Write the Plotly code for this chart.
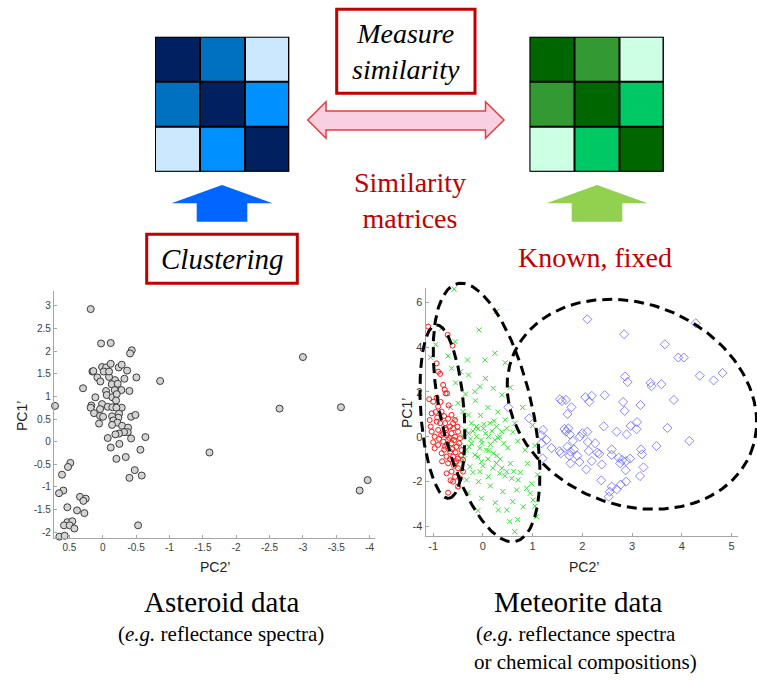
import numpy as np
import plotly.graph_objects as go

W, H = 757, 680


def px(x):
    return x / W


def py(y):
    return 1 - y / H


# ---------------- Asteroid data (PC2', PC1') ----------------
ast_x = [-3.57, -3.00, -4.085, -2.65, -3.57, -1.60, -3.97, -3.85, -0.86,
         0.715, 0.18, 0.025, -0.12, -0.435, -0.41, 0.295, 0.155, 0.14, 0.08,
         0.035, 0.01, -0.05, -0.12, -0.24, -0.285, -0.365, -0.505, -0.325,
         -0.185, -0.095, -0.015, -0.095, -0.135, -0.225, -0.28, -0.18, -0.40,
         -0.05, -0.06, 0.11, -0.145, -0.21, -0.20, 0.01, 0.17, 0.18, 0.04,
         -0.075, -0.145, -0.285, -0.205, 0.13, 0.04, -0.005, -0.245, -0.235,
         -0.14, -0.425, -0.49, 0.055, -0.16, -0.22, -0.14, -0.29, -0.38,
         -0.375, -0.32, -0.245, -0.19, -0.425, -0.64, -0.075, -0.12, -0.25,
         -0.565, -0.345, -0.205, -0.48, -0.40, -0.585, -0.53, 0.065,
         0.485, 0.52, 0.61, 0.59, 0.655, 0.34, 0.255, 0.29, 0.53, 0.385, 0.275,
         0.53, 0.455, 0.58, 0.495, 0.425, 0.65, 0.57]
ast_y = [3.34, 1.87, 1.67, 0.73, 0.76, -0.24, -0.85, -1.08, 1.34,
         0.79, 2.93, 2.17, 2.18, 2.02, 1.95, 1.18, 1.55, 1.56, 1.42,
         1.33, 1.65, 1.64, 1.72, 1.64, 1.70, 1.57, 1.42, 1.39,
         1.36, 1.43, 1.55, 1.55, 1.27, 1.28, 1.14, 1.14, 1.12,
         1.12, 1.03, 0.98, 0.98, 1.05, 0.91, 0.83, 0.80, 0.75, 0.72,
         0.77, 0.76, 0.75, 0.75, 0.63, 0.57, 0.55, 0.62, 0.53,
         0.56, 0.55, 0.59, 0.40, 0.47, 0.42, 0.37, 0.35, 0.31,
         0.21, 0.21, 0.18, 0.16, 0.07, 0.10, 0.08, -0.13, -0.05,
         -0.18, -0.34, -0.38, -0.63, -0.80, -0.75, -1.85, -2.15,
         -0.47, -0.56, -0.73, -1.08, -1.14, -1.22, -1.26, -1.31, -1.45, -1.52,
         -1.58, -1.78, -1.76, -1.85, -1.85, -1.92, -2.10, -2.08]

# ---------------- Meteorite data (PC2', PC1') ----------------
red_x = [-1.10, -0.71, -0.61, -0.93, -0.90, -0.86, -0.80, -0.75, -0.72, -1.08,
         -0.93, -1.00, -0.90, -0.83, -0.78, -1.03, -1.07, -0.93, -0.63, -0.56,
         -0.51, -0.66, -0.76, -0.90, -1.03, -0.84, -0.73, -0.63, -0.56, -0.46,
         -0.70, -0.80, -0.90, -0.97, -0.76, -0.63, -0.53, -0.43, -0.66, -0.83,
         -0.73, -0.60, -0.50, -0.40, -0.70, -0.56, -0.50, -0.63, -0.73, -0.56,
         -0.60, -0.50, -0.70, -0.46, -0.40, -0.80, -0.60, -0.50, -0.86, -0.97,
         -0.76, -0.68, -0.62, -0.55, -0.72, -0.88, -0.78, -0.66, -0.58, -0.48,
         -0.60, -0.70, -0.95, -0.85, -1.05, -0.82, -0.65, -0.53, -0.44, -0.74,
         -0.58, -1.00, -0.92, -0.69, -0.77]
red_y = [4.91, 4.54, 4.06, 3.27, 2.90, 2.80, 2.31, 1.93, 1.93, 1.67,
         1.74, 1.56, 1.34, 1.12, 0.92, 1.04, 0.74, 0.67, 0.97, 0.74,
         0.45, 0.45, 0.37, 0.30, 0.22, 0.07, 0.07, 0.15, 0.00, -0.07,
         -0.15, -0.22, -0.37, -0.52, -0.45, -0.30, -0.45, -0.60, -0.67, -0.74,
         -0.89, -0.89, -0.97, -1.04, -1.19, -1.19, -1.41, -1.56, -1.64, -1.79,
         -2.01, -2.23, -2.50, -1.86, -1.56, 0.15, 0.37, 0.22, 0.60, 0.00,
         0.60, -0.05, -0.55, -0.70, -0.35, -0.10, -0.58, -1.00, -1.30, -0.30,
         0.60, 0.80, 1.10, 1.55, 0.45, -1.10, -1.95, -1.10, -0.85, 0.30,
         -0.15, -0.25, 0.85, 1.40, 2.10]

green_x = [-0.58, 0.27, -0.08, -0.83, -1.05, -0.56, 0.24, 0.04, -0.31, -0.63,
           -0.29, -0.06, 0.21, 0.38, -0.16, -0.50, -0.40, -0.29, -0.23, -0.13,
           0.01, 0.14, 0.27, 0.38, 0.48, 0.64, -0.29, -0.13, -0.03, 0.11,
           0.24, 0.34, -0.23, -0.06, 0.07, 0.21, -0.33, -0.16, -0.40, -0.26,
           -0.03, 0.27, 0.38, 0.48, 0.58, 0.71, 0.34, -0.06, 0.11, -0.33,
           -0.09, 0.88, 0.95, 0.68, 1.01, 0.81, 0.48, 0.31, -0.03, 1.08,
           0.64, 0.88, 0.54,
           -0.35, -0.20, -0.10, 0.05, 0.18, 0.30, 0.42, 0.50, 0.15, -0.02,
           -0.25, -0.40, -0.45, -0.38, -0.10, 0.10, 0.35, 0.55, 0.62, 0.44,
           0.20, 0.00, -0.20, -0.45, -0.50, -0.30, 0.15, 0.40, 0.75, 0.90,
           0.85, 0.70, 0.60, 0.45, 0.30, 0.10, -0.15, -0.35, -0.55, -0.45,
           -0.70, -0.95, 0.05, 0.45, 0.55, 0.80, 1.00, 1.05, 1.10, 0.98,
           0.60, 0.25, -0.10, 0.70, 1.05, -0.60, -0.55, -0.65, 0.22, -0.05,
           0.12, 0.28, -0.28, 0.02]
green_y = [6.58, 5.58, 4.76, 4.84, 3.54, 4.24, 3.72, 3.42, 3.42, 3.05,
           2.75, 2.23, 2.16, 1.86, 2.01, 1.49, 1.12, 0.97, 0.60, 0.45,
           0.37, 0.60, 0.45, 0.22, 0.37, 0.60, 0.15, 0.00, -0.15, 0.00,
           -0.15, 0.00, -0.30, -0.52, -0.60, -0.74, -0.60, -0.82, -1.04, -1.34,
           -1.12, -1.19, -1.41, -1.56, -1.86, -1.93, -1.64, -1.56, -1.79, -1.93,
           -2.01, -2.31, -2.53, -2.38, -2.83, -3.13, -3.27, -3.27, -2.75, -3.57,
           -4.24, -4.46, -3.79,
           0.30, 0.25, 0.35, 0.15, 0.25, -0.05, -0.30, -0.50, -0.35, -0.30,
           -0.10, 0.05, -0.40, -0.80, -0.90, -1.00, -1.00, -1.20, -1.55, -1.75,
           -1.40, -1.30, -1.60, -1.50, -2.20, -2.50, -2.20, -2.45, -1.60, -1.20,
           -0.60, -0.20, 0.20, 0.75, 1.10, 1.30, 1.60, 1.90, 2.40, 2.90,
           3.60, 4.10, 2.60, 3.30, 2.20, 1.30, 0.50, -0.40, -1.70, -2.10,
           -2.90, -2.95, -3.30, -3.70, -3.10, -0.20, 0.80, 1.30, 0.70, 0.95,
           -0.62, -0.85, -0.45, 0.55]

blue_x = [2.10, 2.84, 3.66, 4.28, 3.93, 4.04, 5.17, 5.15, 4.82, 4.64,
          4.36, 3.59, 3.37, 3.39, 2.86, 2.91, 2.45, 3.84, 3.17, 2.82,
          2.85, 2.06, 2.19, 2.14, 1.55, 1.59, 1.67, 1.78, 1.70, 0.93,
          0.51, 1.21, 1.28, 1.17, 1.18, 1.64, 1.72, 1.67, 1.75, 1.95,
          2.00, 2.10, 2.43, 2.69, 2.89, 2.97, 3.10, 3.09, 3.71, 4.15,
          3.49, 1.38, 1.54, 1.57, 1.70, 1.76, 1.74, 1.83, 1.90, 1.81,
          2.11, 2.26, 2.13, 2.30, 2.34, 2.19, 1.94, 1.76, 2.08, 2.39,
          2.59, 2.59, 2.73, 2.76, 2.80, 2.88, 2.96, 2.87, 3.18, 3.20,
          3.23, 3.16, 2.88, 2.77, 2.69, 2.59, 2.55, 2.53, 2.38, 1.20,
          5.21]
blue_y = [5.24, 4.57, 4.12, 5.06, 3.53, 3.53, 3.35, 2.93, 2.84, 2.51,
          2.72, 2.34, 2.40, 2.25, 2.68, 2.44, 1.85, 1.64, 1.41, 1.55,
          1.15, 1.76, 1.82, 1.56, 1.67, 1.59, 1.64, 1.31, 1.01, 0.82,
          1.31, 0.30, -0.15, 0.07, -0.30, 0.34, 0.37, 0.22, 0.10, 0.00,
          0.15, 0.22, 0.46, 0.22, 0.10, 0.48, 0.65, 0.33, 0.39, -0.19,
          -0.42, -0.51, -0.65, -0.74, -0.45, -0.67, -0.85, -0.57, -0.85, -0.19,
          -0.24, -0.30, -0.64, -0.71, -0.77, -1.09, -1.13, -1.19, -1.46, -1.24,
          -0.57, -0.82, -0.94, -1.19, -1.04, -1.09, -0.98, -1.50, -0.57, -0.79,
          -1.37, -1.76, -2.01, -2.14, -2.35, -2.23, -2.46, -2.68, -1.95, -0.97,
          -1.93]

# Cluster outlines: centre and two conjugate half-axes (data units)
ell_centers = [(-0.814, 1.115), (0.074, 1.079), (2.996, 1.445)]
ell_axis_a = [(0.1245, -3.87), (0.585, -5.75), (2.387, -2.192)]
ell_axis_b = [(0.435, 0.069), (0.90, 0.451), (0.772, 4.143)]

# Similarity matrices (rank of similarity, 3 = self)
sim_levels = [[3, 2, 0], [2, 3, 1], [0, 1, 3]]
blue_levels = ["#cce8ff", "#0090ff", "#0070c0", "#002060"]
green_levels = ["#ccffe4", "#00c864", "#339933", "#006600"]

ast_xticks = [0.5, 0, -0.5, -1, -1.5, -2, -2.5, -3, -3.5, -4]
ast_yticks = [3, 2.5, 2, 1.5, 1, 0.5, 0, -0.5, -1, -1.5, -2]
met_xticks = [-1, 0, 1, 2, 3, 4, 5]
met_yticks = [-4, -2, 0, 2, 4, 6]


def fmt(v):
    return "%g" % v


def stepped(colors):
    n = len(colors)
    cs = []
    for i, c in enumerate(colors):
        cs.append([i / n, c])
        cs.append([(i + 1) / n, c])
    return cs


SANS = "Liberation Sans"
SERIF = "Liberation Serif"
RED = "#c00000"

fig = go.Figure()

# asteroid scatter
fig.add_trace(go.Scatter(
    x=ast_x, y=ast_y, mode="markers", xaxis="x", yaxis="y", cliponaxis=False,
    marker=dict(symbol="circle", size=7, color="#d4d4d4",
                line=dict(color="#3a3a3a", width=1))))

# meteorite scatter
fig.add_trace(go.Scatter(
    x=green_x, y=green_y, mode="markers", xaxis="x2", yaxis="y2", cliponaxis=False,
    marker=dict(symbol="x-thin", size=5, line=dict(color="#35e035", width=1))))
fig.add_trace(go.Scatter(
    x=blue_x, y=blue_y, mode="markers", xaxis="x2", yaxis="y2", cliponaxis=False,
    marker=dict(symbol="diamond-open", size=7, color="rgba(70,70,255,0.65)",
                line=dict(width=1))))
fig.add_trace(go.Scatter(
    x=red_x, y=red_y, mode="markers", xaxis="x2", yaxis="y2", cliponaxis=False,
    marker=dict(symbol="circle-open", size=5, color="#ff1a1a",
                line=dict(width=1))))

# dashed cluster outlines on a transparent companion axis with the same scale
t = np.linspace(0, 2 * np.pi, 240)
for (cx, cy), (ax_, ay_), (bx_, by_) in zip(ell_centers, ell_axis_a, ell_axis_b):
    ex = cx + ax_ * np.cos(t) + bx_ * np.sin(t)
    ey = cy + ay_ * np.cos(t) + by_ * np.sin(t)
    fig.add_trace(go.Scatter(
        x=ex, y=ey, mode="lines", xaxis="x3", yaxis="y3",
        line=dict(color="black", width=3, dash="10px,6px")))

# similarity matrices
for axx, axy, cols in (("x4", "y4", blue_levels), ("x5", "y5", green_levels)):
    fig.add_trace(go.Heatmap(
        z=sim_levels, x=[0, 1, 2], y=[0, 1, 2], xaxis=axx, yaxis=axy,
        colorscale=stepped(cols), zmin=-0.5, zmax=len(cols) - 0.5,
        showscale=False, xgap=2, ygap=2, hoverinfo="skip"))

# axis geometry (pixels)
L_dom = (54, 375, 291, 538)
R_dom = (425.7, 738, 288.3, 535.7)
L_rng = ([0.73, -4.08], [-2.13, 3.33])
R_rng = ([-1.15, 5.13], [-4.42, 6.62])


def axis_common(size):
    return dict(showgrid=False, zeroline=False, showline=True, linecolor="#a6a6a6",
                linewidth=1.2, ticks="inside", ticklen=3, tickcolor="#a6a6a6",
                tickfont=dict(family=SANS, size=size, color="#3c3c3c"))


lay = dict(
    width=W, height=H, margin=dict(l=0, r=0, t=0, b=0),
    paper_bgcolor="white", plot_bgcolor="rgba(0,0,0,0)", showlegend=False,
    font=dict(family=SANS),
)
lay["xaxis"] = dict(domain=[px(L_dom[0]), px(L_dom[1])], range=L_rng[0], anchor="y",
                    tickvals=ast_xticks, ticktext=[fmt(v) for v in ast_xticks],
                    **axis_common(10))
lay["yaxis"] = dict(domain=[py(L_dom[3]), py(L_dom[2])], range=L_rng[1], anchor="x",
                    tickvals=ast_yticks, ticktext=[fmt(v) for v in ast_yticks],
                    **axis_common(10))
lay["xaxis2"] = dict(domain=[px(R_dom[0]), px(R_dom[1])], range=R_rng[0], anchor="y2",
                     tickvals=met_xticks, ticktext=[fmt(v) for v in met_xticks],
                     **axis_common(11))
lay["yaxis2"] = dict(domain=[py(R_dom[3]), py(R_dom[2])], range=R_rng[1], anchor="x2",
                     tickvals=met_yticks, ticktext=[fmt(v) for v in met_yticks],
                     **axis_common(11))

# companion axis spanning a wider box, same units per pixel as x2/y2
E_dom = (395, 757, 265, 565)
kx = (R_rng[0][1] - R_rng[0][0]) / (R_dom[1] - R_dom[0])
ky = (R_rng[1][1] - R_rng[1][0]) / (R_dom[3] - R_dom[2])
e_xr = [R_rng[0][0] + (E_dom[0] - R_dom[0]) * kx, R_rng[0][0] + (E_dom[1] - R_dom[0]) * kx]
e_yr = [R_rng[1][0] - (E_dom[3] - R_dom[3]) * ky, R_rng[1][0] + (R_dom[3] - E_dom[2]) * ky]
hidden = dict(visible=False, showgrid=False, zeroline=False)
lay["xaxis3"] = dict(domain=[px(E_dom[0]), px(E_dom[1])], range=e_xr, anchor="y3", **hidden)
lay["yaxis3"] = dict(domain=[py(E_dom[3]), py(E_dom[2])], range=e_yr, anchor="x3", **hidden)

M_blue = (155, 289.3, 36.7, 171.7)
M_green = (529.5, 663.8, 36.7, 171.7)
lay["xaxis4"] = dict(domain=[px(M_blue[0]), px(M_blue[1])], range=[-0.5, 2.5], anchor="y4", **hidden)
lay["yaxis4"] = dict(domain=[py(M_blue[3]), py(M_blue[2])], range=[2.5, -0.5], anchor="x4", **hidden)
lay["xaxis5"] = dict(domain=[px(M_green[0]), px(M_green[1])], range=[-0.5, 2.5], anchor="y5", **hidden)
lay["yaxis5"] = dict(domain=[py(M_green[3]), py(M_green[2])], range=[2.5, -0.5], anchor="x5", **hidden)

shapes = []
# black frame / grid behind the matrix cells
for xr, yr in (("x4", "y4"), ("x5", "y5")):
    shapes.append(dict(type="rect", xref=xr, yref=yr, x0=-0.5, x1=2.5, y0=-0.5, y1=2.5,
                       fillcolor="black", line=dict(color="black", width=2), layer="below"))


def poly(points):
    return "M " + " L ".join("%.5f,%.5f" % (px(a), py(b)) for a, b in points) + " Z"


# two-headed comparison arrow
dbl = [(307.7, 120), (326, 101.7), (326, 111), (485.5, 111), (485.5, 101.7), (504, 120),
       (485.5, 138.3), (485.5, 130), (326, 130), (326, 138.3)]
shapes.append(dict(type="path", xref="paper", yref="paper", path=poly(dbl),
                   fillcolor="#f9d0e2", line=dict(color="#e0403c", width=1.5)))


def up_arrow(cx):
    return [(cx, 185), (cx + 50.5, 203.3), (cx + 25.3, 203.3), (cx + 25.3, 221.7),
            (cx - 25.3, 221.7), (cx - 25.3, 203.3), (cx - 50.5, 203.3)]


shapes.append(dict(type="path", xref="paper", yref="paper", path=poly(up_arrow(222)),
                   fillcolor="#0066ff", line=dict(width=0)))
shapes.append(dict(type="path", xref="paper", yref="paper", path=poly(up_arrow(597)),
                   fillcolor="#92d050", line=dict(width=0)))

# red framed labels
for x0, y0, x1, y1 in ((336.7, 9.3, 475, 93.3), (146.7, 234.3, 297.3, 283.3)):
    shapes.append(dict(type="rect", xref="paper", yref="paper",
                       x0=px(x0), x1=px(x1), y0=py(y1), y1=py(y0),
                       line=dict(color=RED, width=3), fillcolor="white"))
lay["shapes"] = shapes

ann = []


def text(x, y, s, size, family=SERIF, color="black", angle=0):
    ann.append(dict(x=px(x), y=py(y), xref="paper", yref="paper", text=s,
                    showarrow=False, xanchor="center", yanchor="middle",
                    font=dict(family=family, size=size, color=color), textangle=angle))


text(406, 52, "<i>Measure<br>similarity</i>", 28)
text(222, 259, "<i>Clustering</i>", 29)
text(410, 200, "Similarity<br>matrices", 28, color=RED)
text(595, 257, "Known, fixed", 28, color=RED)
text(222, 602, "Asteroid data", 29)
text(221, 634, "(<i>e.g.</i> reflectance spectra)", 21)
text(578, 602, "Meteorite data", 29)
text(576, 634, "(<i>e.g.</i> reflectance spectra", 21)
text(585, 662, "or chemical compositions)", 21)

# axis titles
text(215, 567, "PC2’", 14, family=SANS, color="#222")
text(22, 416, "PC1’", 14, family=SANS, color="#222", angle=-90)
text(584, 567, "PC2’", 14, family=SANS, color="#222")
text(407, 413, "PC1’", 14, family=SANS, color="#222", angle=-90)
lay["annotations"] = ann

fig.update_layout(**lay)
fig.write_html("out.html")
